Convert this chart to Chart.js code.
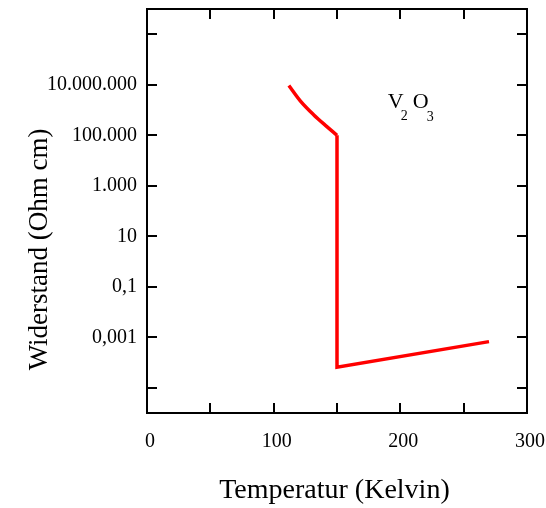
<!DOCTYPE html>
<html>
<head>
<meta charset="utf-8">
<script src="https://cdn.jsdelivr.net/npm/chart.js@4"></script>
<style>
  body { margin: 0; background: #fff; }
  canvas { display: block; }
</style>
</head>
<body>
<canvas id="chart" width="546" height="508"></canvas>
<script>
// Temperature (K) and resistivity (Ohm cm)
const curveTemp = [112, 121, 131.5, 142, 150];
const curveRes = [9.3e6, 2.3e6, 6.5e5, 2.2e5, 1.0e5];
const jumpTemp = [150, 150, 270];
const jumpRes = [1.0e5, 6.5e-5, 6.7e-4];

// Axis ticks and their labels
const xTicks = [0, 50, 100, 150, 200, 250, 300];
const xLabels = ['0', '', '100', '', '200', '', '300'];
const yTicks = [1e-5, 1e-3, 1e-1, 1e1, 1e3, 1e5, 1e7, 1e9];
const yLabels = ['', '0,001', '0,1', '10', '1.000', '100.000', '10.000.000', ''];
const xTitle = 'Temperatur (Kelvin)';
const yTitle = 'Widerstand (Ohm cm)';

const serif = "'Liberation Serif', 'Times New Roman', serif";

// Draws the box around the plot, the inward tick marks, the axis titles and the V2O3 label
const framePlugin = {
    id: 'frame',
    afterDraw(chart) {
        const ctx = chart.ctx;
        const area = chart.chartArea;
        const xs = chart.scales.x;
        const ys = chart.scales.y;
        const len = 10;

        ctx.save();
        ctx.strokeStyle = '#000';
        ctx.lineWidth = 2;
        ctx.strokeRect(area.left, area.top, area.right - area.left, area.bottom - area.top);

        ctx.beginPath();
        xTicks.forEach(v => {
            if (v <= xs.min || v >= xs.max) return;
            const px = Math.round(xs.getPixelForValue(v));
            ctx.moveTo(px, area.bottom);
            ctx.lineTo(px, area.bottom - len);
            ctx.moveTo(px, area.top);
            ctx.lineTo(px, area.top + len);
        });
        yTicks.forEach(v => {
            const py = Math.round(ys.getPixelForValue(v));
            ctx.moveTo(area.left, py);
            ctx.lineTo(area.left + len, py);
            ctx.moveTo(area.right, py);
            ctx.lineTo(area.right - len, py);
        });
        ctx.stroke();

        // axis titles, placed slightly off-centre as in the original
        ctx.fillStyle = '#000';
        ctx.font = '28px ' + serif;
        ctx.textAlign = 'center';
        ctx.textBaseline = 'middle';
        ctx.fillText(xTitle, xs.getPixelForValue(148), 491);

        ctx.font = '27px ' + serif;
        ctx.translate(40, ys.getPixelForValue(3));
        ctx.rotate(-Math.PI / 2);
        ctx.fillText(yTitle, 0, 0);
        ctx.setTransform(1, 0, 0, 1, 0, 0);

        // V2O3 label with subscripts
        const lx = xs.getPixelForValue(190);
        const ly = ys.getPixelForValue(1.2e6);
        ctx.textAlign = 'left';
        ctx.textBaseline = 'alphabetic';
        ctx.font = '22px ' + serif;
        ctx.fillText('V', lx, ly);
        ctx.fillText('O', lx + 25, ly);
        ctx.font = '14px ' + serif;
        ctx.fillText('2', lx + 13, ly + 12);
        ctx.fillText('3', lx + 39, ly + 13);
        ctx.restore();
    }
};

new Chart(document.getElementById('chart'), {
    type: 'line',
    data: {
        datasets: [{
            data: curveTemp.map((t, i) => ({ x: t, y: curveRes[i] })),
            borderColor: '#ff0000',
            borderWidth: 3.5,
            pointRadius: 0,
            cubicInterpolationMode: 'monotone',
            fill: false
        }, {
            data: jumpTemp.map((t, i) => ({ x: t, y: jumpRes[i] })),
            borderColor: '#ff0000',
            borderWidth: 3.5,
            pointRadius: 0,
            tension: 0,
            fill: false
        }]
    },
    options: {
        responsive: false,
        animation: false,
        layout: { padding: { top: 9, right: 19, left: 0, bottom: 0 } },
        plugins: {
            legend: { display: false },
            tooltip: { enabled: false }
        },
        scales: {
            x: {
                type: 'linear',
                min: 0,
                max: 300,
                afterFit: scale => {
                    scale.height = 95;
                    scale.paddingLeft = 0;
                    scale.paddingRight = 0;
                },
                afterBuildTicks: scale => { scale.ticks = xTicks.map(v => ({ value: v })); },
                grid: { display: false, drawTicks: false },
                border: { display: false },
                ticks: {
                    autoSkip: false,
                    maxRotation: 0,
                    padding: 17,
                    labelOffset: 3,
                    color: '#000',
                    font: { family: serif, size: 20 },
                    callback: (v, i) => xLabels[xTicks.indexOf(v)] ?? ''
                }
            },
            y: {
                type: 'logarithmic',
                min: 1e-6,
                max: 1e10,
                afterFit: scale => {
                    scale.width = 147;
                    scale.paddingTop = 0;
                    scale.paddingBottom = 0;
                },
                afterBuildTicks: scale => { scale.ticks = yTicks.map(v => ({ value: v })); },
                grid: { display: false, drawTicks: false },
                border: { display: false },
                ticks: {
                    autoSkip: false,
                    padding: 10,
                    color: '#000',
                    font: { family: serif, size: 20 },
                    callback: (v, i) => yLabels[i] ?? ''
                }
            }
        }
    },
    plugins: [framePlugin]
});
</script>
</body>
</html>
